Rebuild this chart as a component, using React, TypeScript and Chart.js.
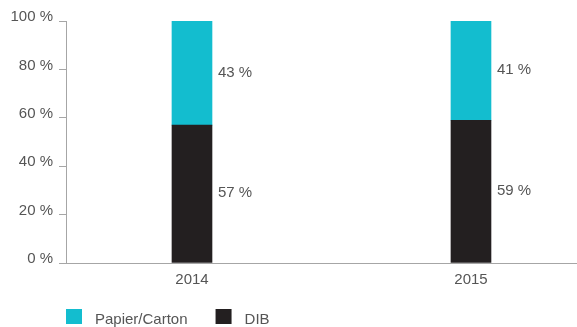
import React, { useEffect, useRef } from "react";
import { Chart, registerables } from "chart.js";

Chart.register(...registerables);

const categories = ["2014", "2015"];
const seriesNames = ["Papier/Carton", "DIB"];
const papierValues = [43, 41];
const dibValues = [57, 59];
const yTickValues = [0, 20, 40, 60, 80, 100];

const CYAN = "#13BDCF";
const DARK = "#231F20";
const TEXT = "#555555";
const AXIS = "#a6a6a6";
const FONT = "'Liberation Sans', Arial, Helvetica, sans-serif";

const labelsPlugin = {
  id: "customLabels",
  afterDatasetsDraw(chart: any) {
    const ctx = chart.ctx;
    ctx.save();
    ctx.font = `15px ${FONT}`;
    ctx.fillStyle = TEXT;
    ctx.textAlign = "left";
    ctx.textBaseline = "middle";
    chart.data.datasets.forEach((ds: any, di: number) => {
      const meta = chart.getDatasetMeta(di);
      meta.data.forEach((bar: any, i: number) => {
        const p = bar.getProps(["x", "y", "base", "width"], true);
        const cy = (p.y + p.base) / 2 - 0.5;
        ctx.fillText(`${ds.data[i].y} %`, p.x + p.width / 2 + 6, cy);
      });
    });
    // legend
    const ca = chart.chartArea;
    let x = ca.left;
    const top = 309;
    const order = [1, 0];
    ctx.textBaseline = "alphabetic";
    order.forEach((di) => {
      const ds = chart.data.datasets[di];
      ctx.fillStyle = ds.backgroundColor;
      ctx.fillRect(x, top, 16, 15);
      ctx.fillStyle = TEXT;
      ctx.fillText(ds.label, x + 29, top + 15);
      const w = ctx.measureText(ds.label).width;
      x = x + 29 + w + 28;
    });
    ctx.restore();
  },
};

export default function App() {
  const ref = useRef<HTMLCanvasElement>(null);
  useEffect(() => {
    document.body.style.margin = "0";
    const canvas = ref.current!;
    const chart = new Chart(canvas, {
      type: "bar",
      data: {
        datasets: [
          {
            label: seriesNames[1],
            data: dibValues.map((v, i) => ({ x: i, y: v })),
            backgroundColor: DARK,
            barThickness: 40,
          },
          {
            label: seriesNames[0],
            data: papierValues.map((v, i) => ({ x: i, y: v })),
            backgroundColor: CYAN,
            barThickness: 40,
          },
        ],
      },
      options: {
        responsive: false,
        animation: false,
        layout: { padding: { top: 21, right: 0, left: 0, bottom: 0 } },
        plugins: { legend: { display: false }, tooltip: { enabled: false } },
        scales: {
          x: {
            type: "linear",
            stacked: true,
            offset: false,
            bounds: "data",
            min: -0.4516,
            max: 1.38,
            afterBuildTicks: (scale: any) => {
              scale.ticks = categories.map((_, i) => ({ value: i }));
            },
            afterFit: (scale: any) => {
              scale.height = 64;
            },
            ticks: {
              callback: (v: any) => categories[v] ?? "",
              color: TEXT,
              font: { family: FONT, size: 15 },
              padding: 0,
              maxRotation: 0,
              autoSkip: false,
            },
            grid: { display: false },
            border: { display: true, color: AXIS, width: 1 },
          },
          y: {
            stacked: true,
            min: 0,
            max: 100,
            afterBuildTicks: (scale: any) => {
              scale.ticks = yTickValues.map((v) => ({ value: v }));
            },
            afterFit: (scale: any) => {
              scale.width = 66;
            },
            ticks: {
              callback: (v: any) => `${v} %`,
              color: TEXT,
              font: { family: FONT, size: 15 },
              padding: 6,
              labelOffset: -4,
            },
            grid: {
              display: true,
              drawOnChartArea: false,
              drawTicks: true,
              tickLength: 7,
              color: AXIS,
            },
            border: { display: true, color: AXIS, width: 1 },
          },
        },
      } as any,
      plugins: [labelsPlugin],
    });
    return () => chart.destroy();
  }, []);
  return (
    <div style={{ width: 577, height: 327 }}>
      <canvas ref={ref} width={577} height={327} style={{ display: "block" }} />
    </div>
  );
}
